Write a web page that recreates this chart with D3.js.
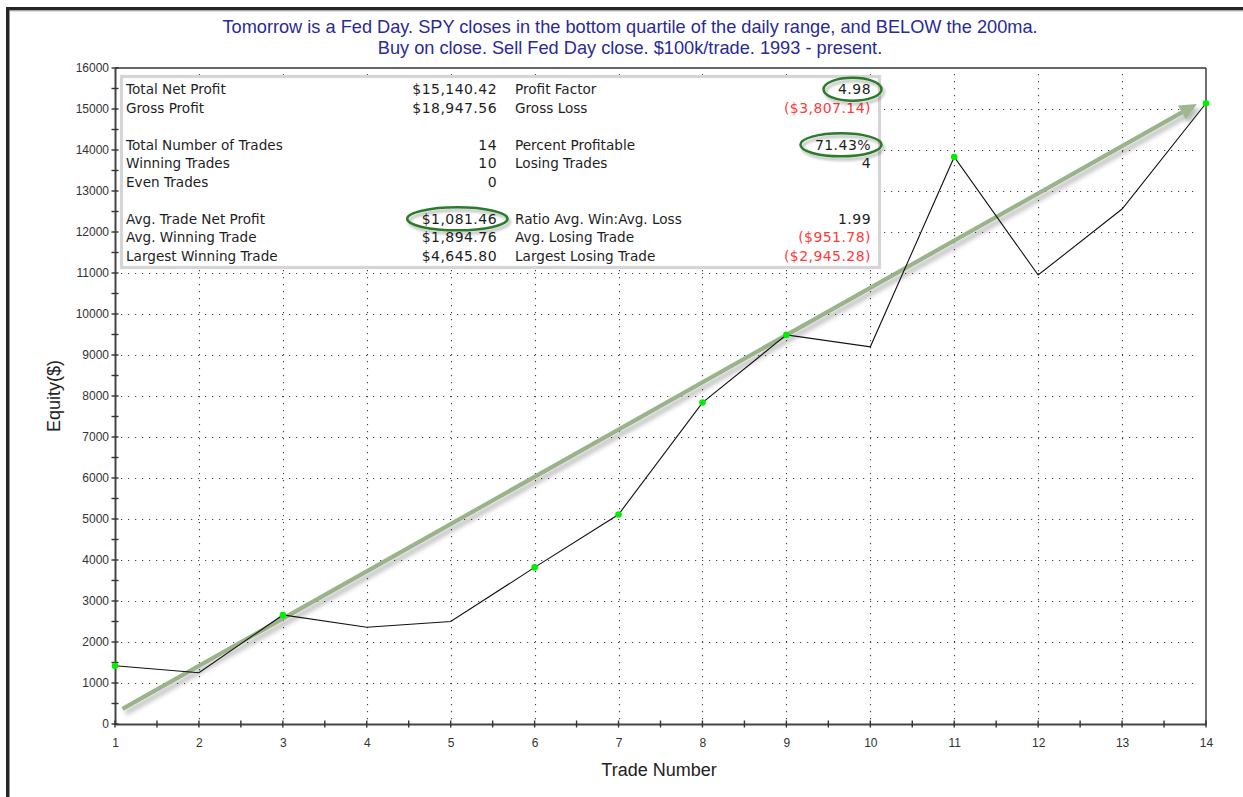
<!DOCTYPE html>
<html>
<head>
<meta charset="utf-8">
<script src="https://cdn.jsdelivr.net/npm/d3@7"></script>
<style>
  html, body { margin: 0; padding: 0; background: #fff; }
  svg { display: block; }
</style>
</head>
<body>
<svg id="chart" width="1243" height="797"></svg>
<script>
// ---- Data ----
const tradeNumbers = [1, 2, 3, 4, 5, 6, 7, 8, 9, 10, 11, 12, 13, 14];
const equity = [1420, 1250, 2660, 2360, 2500, 3820, 5110, 7840, 9490, 9200, 13830, 10950, 12560, 15140];
const newHigh = [true, false, true, false, false, true, true, true, true, false, true, false, false, true];
const yTicks = [0, 1000, 2000, 3000, 4000, 5000, 6000, 7000, 8000, 9000, 10000, 11000, 12000, 13000, 14000, 15000, 16000];
const xTicks = [1, 2, 3, 4, 5, 6, 7, 8, 9, 10, 11, 12, 13, 14];
const titleLines = [
  "Tomorrow is a Fed Day. SPY closes in the bottom quartile of the daily range, and BELOW the 200ma.",
  "Buy on close. Sell Fed Day close. $100k/trade. 1993 - present."
];
const trendArrow = [[1.09, 370], [13.89, 15120]];

// Stats table rows (null = blank row)
const statsLeftLabels = ["Total Net Profit", "Gross Profit", null, "Total Number of Trades", "Winning Trades", "Even Trades", null, "Avg. Trade Net Profit", "Avg. Winning Trade", "Largest Winning Trade"];
const statsLeftValues = ["$15,140.42", "$18,947.56", null, "14", "10", "0", null, "$1,081.46", "$1,894.76", "$4,645.80"];
const statsRightLabels = ["Profit Factor", "Gross Loss", null, "Percent Profitable", "Losing Trades", null, null, "Ratio Avg. Win:Avg. Loss", "Avg. Losing Trade", "Largest Losing Trade"];
const statsRightValues = ["4.98", "($3,807.14)", null, "71.43%", "4", null, null, "1.99", "($951.78)", "($2,945.28)"];
const statsRightNegative = [false, true, false, false, false, false, false, false, true, true];
// highlighted cells: [column, row]
const highlights = [["right", 0], ["right", 3], ["left", 7]];

// ---- Layout ----
const svg = d3.select("#chart");
const W = 1243, H = 797;
const plot = { left: 115, right: 1206, top: 68, bottom: 724 };

const x = d3.scaleLinear().domain([1, 14]).range([plot.left, plot.right]);
const y = d3.scaleLinear().domain([0, 16000]).range([plot.bottom, plot.top]);

// defs
const defs = svg.append("defs");
const sh = defs.append("filter").attr("id", "shadow").attr("x", "-5%").attr("y", "-20%").attr("width", "110%").attr("height", "140%");
sh.append("feGaussianBlur").attr("in", "SourceAlpha").attr("stdDeviation", 2.6).attr("result", "blur");
sh.append("feOffset").attr("in", "blur").attr("dx", 3).attr("dy", 4).attr("result", "off");
sh.append("feComponentTransfer").attr("in", "off").attr("result", "offA")
  .append("feFuncA").attr("type", "linear").attr("slope", 0.3);
const mg = sh.append("feMerge");
mg.append("feMergeNode").attr("in", "offA");
mg.append("feMergeNode").attr("in", "SourceGraphic");

const sh2 = defs.append("filter").attr("id", "shadow2").attr("x", "-20%").attr("y", "-40%").attr("width", "140%").attr("height", "180%");
sh2.append("feGaussianBlur").attr("in", "SourceAlpha").attr("stdDeviation", 1.5).attr("result", "blur");
sh2.append("feOffset").attr("in", "blur").attr("dx", 2).attr("dy", 3).attr("result", "off");
sh2.append("feComponentTransfer").attr("in", "off").attr("result", "offA")
  .append("feFuncA").attr("type", "linear").attr("slope", 0.3);
const mg2 = sh2.append("feMerge");
mg2.append("feMergeNode").attr("in", "offA");
mg2.append("feMergeNode").attr("in", "SourceGraphic");

// Outer frame (top and left dark borders)
svg.append("rect").attr("x", 6).attr("y", 7).attr("width", W - 6).attr("height", 3.5).attr("fill", "#262626");
svg.append("rect").attr("x", 6).attr("y", 7).attr("width", 3.5).attr("height", H - 7).attr("fill", "#262626");
svg.append("line").attr("x1", 9.5).attr("x2", W).attr("y1", 11).attr("y2", 11).attr("stroke", "#bdbdbd").attr("stroke-width", 1);

// Title
svg.append("g").selectAll("text").data(titleLines).join("text")
  .attr("x", 630).attr("y", (d, i) => 33 + i * 21)
  .attr("text-anchor", "middle")
  .attr("font-family", "'Liberation Sans', Arial, sans-serif")
  .attr("font-size", 18.2)
  .attr("fill", "#2a2a96")
  .text(d => d);

// Gridlines
const grid = svg.append("g").attr("stroke", "#444").attr("stroke-width", 1.1).attr("stroke-dasharray", "1.2 5.8");
grid.selectAll(".h").data(yTicks.filter(d => d > 0 && d < 16000)).join("line")
  .attr("x1", plot.left + 6).attr("x2", plot.right - 8)
  .attr("y1", d => Math.round(y(d)) + 0.5).attr("y2", d => Math.round(y(d)) + 0.5);
grid.selectAll(".v").data(xTicks.filter(d => d > 1 && d < 14)).join("line")
  .attr("x1", d => Math.round(x(d)) + 0.5).attr("x2", d => Math.round(x(d)) + 0.5)
  .attr("y1", plot.top + 6).attr("y2", plot.bottom - 3);

// Plot border top & right
svg.append("line").attr("x1", plot.left).attr("x2", plot.right).attr("y1", plot.top).attr("y2", plot.top).attr("stroke", "#333").attr("stroke-width", 1.4);
svg.append("line").attr("x1", plot.right).attr("x2", plot.right).attr("y1", plot.top).attr("y2", plot.bottom).attr("stroke", "#333").attr("stroke-width", 1.4);

// Axes
const yAxis = d3.axisLeft(y).tickValues(yTicks).tickSize(0).tickPadding(6).tickFormat(d3.format("d"));
const yG = svg.append("g").attr("transform", `translate(${plot.left},0)`).call(yAxis);
yG.select(".domain").attr("stroke", "#444").attr("stroke-width", 2);
yG.selectAll("text").attr("font-family", "'Liberation Sans', Arial, sans-serif").attr("font-size", 12).attr("fill", "#333");

const xAxis = d3.axisBottom(x).tickValues(xTicks).tickSize(0).tickPadding(14.5).tickFormat(d3.format("d"));
const xG = svg.append("g").attr("transform", `translate(0,${plot.bottom})`).call(xAxis);
xG.select(".domain").attr("stroke", "#444").attr("stroke-width", 2);
xG.selectAll("text").attr("font-family", "'Liberation Sans', Arial, sans-serif").attr("font-size", 12).attr("fill", "#333");

// Tick marks crossing the axes (major + minor)
const yTickVals = d3.range(0, 16001, 500);
svg.append("g").selectAll("line").data(yTickVals).join("line")
  .attr("x1", plot.left - 3.5).attr("x2", plot.left + 3.5)
  .attr("y1", d => y(d)).attr("y2", d => y(d))
  .attr("stroke", "#333").attr("stroke-width", 1.4);
const xTickVals = d3.range(1, 14.01, 0.5);
svg.append("g").selectAll("line").data(xTickVals).join("line")
  .attr("x1", d => x(d)).attr("x2", d => x(d))
  .attr("y1", plot.bottom - 3.5).attr("y2", plot.bottom + 3.5)
  .attr("stroke", "#333").attr("stroke-width", 1.4);

// Axis titles
svg.append("text")
  .attr("transform", `translate(60, 396) rotate(-90)`)
  .attr("text-anchor", "middle")
  .attr("font-family", "'Liberation Sans', Arial, sans-serif")
  .attr("font-size", 18).attr("fill", "#222")
  .text("Equity($)");
svg.append("text")
  .attr("x", 659).attr("y", 776)
  .attr("text-anchor", "middle")
  .attr("font-family", "'Liberation Sans', Arial, sans-serif")
  .attr("font-size", 18).attr("fill", "#222")
  .text("Trade Number");

// Stats box
const box = svg.append("g");
box.append("rect").attr("x", 121.5).attr("y", 76.5).attr("width", 758).attr("height", 191)
  .attr("fill", "#fff").attr("stroke", "#d5d5d5").attr("stroke-width", 3.2);

const rowY = i => 94.3 + i * 18.5;
const labelFont = "'DejaVu Sans', Verdana, sans-serif";
const labelSize = 13.6, valueSize = 14, valueSpacing = 0.45;
const colX = { leftLabel: 126, leftValue: 497, rightLabel: 515, rightValue: 871 };

box.append("g").selectAll("text").data(statsLeftLabels.map((d, i) => [d, i]).filter(d => d[0])).join("text")
  .attr("x", colX.leftLabel).attr("y", d => rowY(d[1]))
  .attr("font-family", labelFont).attr("font-size", labelSize).attr("fill", "#1e1e1e")
  .text(d => d[0]);
box.append("g").selectAll("text").data(statsLeftValues.map((d, i) => [d, i]).filter(d => d[0])).join("text")
  .attr("x", colX.leftValue).attr("y", d => rowY(d[1]))
  .attr("text-anchor", "end")
  .attr("font-family", labelFont).attr("font-size", valueSize).attr("letter-spacing", valueSpacing).attr("fill", "#1e1e1e")
  .text(d => d[0]);
box.append("g").selectAll("text").data(statsRightLabels.map((d, i) => [d, i]).filter(d => d[0])).join("text")
  .attr("x", colX.rightLabel).attr("y", d => rowY(d[1]))
  .attr("font-family", labelFont).attr("font-size", labelSize).attr("fill", "#1e1e1e")
  .text(d => d[0]);
box.append("g").selectAll("text").data(statsRightValues.map((d, i) => [d, i]).filter(d => d[0])).join("text")
  .attr("x", colX.rightValue).attr("y", d => rowY(d[1]))
  .attr("text-anchor", "end")
  .attr("font-family", labelFont).attr("font-size", valueSize).attr("letter-spacing", valueSpacing)
  .attr("fill", d => statsRightNegative[d[1]] ? "#ff3a3a" : "#1e1e1e")
  .text(d => d[0]);

// Highlight ellipses around chosen values
const hl = svg.append("g").attr("filter", "url(#shadow2)");
highlights.forEach(([col, row]) => {
  const txt = col === "left" ? statsLeftValues[row] : statsRightValues[row];
  const right = col === "left" ? colX.leftValue : colX.rightValue;
  const tmp = svg.append("text").attr("font-family", labelFont).attr("font-size", valueSize).attr("letter-spacing", valueSpacing).text(txt);
  const w = tmp.node().getComputedTextLength();
  tmp.remove();
  const cx = right - w / 2 - 2;
  const cy = rowY(row) - 5;
  hl.append("ellipse").attr("cx", cx).attr("cy", cy).attr("rx", w / 2 + 12.5).attr("ry", 11.5)
    .attr("fill", "none").attr("stroke", "#2b7b2b").attr("stroke-width", 2.5);
});

// Trend arrow
const a0 = [x(trendArrow[0][0]), y(trendArrow[0][1])];
const a1 = [x(trendArrow[1][0]), y(trendArrow[1][1])];
const ang = Math.atan2(a1[1] - a0[1], a1[0] - a0[0]);
const headLen = 17, headHalf = 8;
const base = [a1[0] - headLen * Math.cos(ang), a1[1] - headLen * Math.sin(ang)];
const perp = [-Math.sin(ang), Math.cos(ang)];
const arrowG = svg.append("g").attr("filter", "url(#shadow)");
arrowG.append("line")
  .attr("x1", a0[0]).attr("y1", a0[1]).attr("x2", base[0]).attr("y2", base[1])
  .attr("stroke", "#9ab38a").attr("stroke-width", 4.2);
arrowG.append("path")
  .attr("d", d3.line()([a1, [base[0] + perp[0] * headHalf, base[1] + perp[1] * headHalf], [base[0] - perp[0] * headHalf, base[1] - perp[1] * headHalf]]) + "Z")
  .attr("fill", "#9fb690");

// Equity line
const line = d3.line().x((d, i) => x(tradeNumbers[i])).y(d => y(d));
svg.append("path").datum(equity)
  .attr("d", line)
  .attr("fill", "none").attr("stroke", "#111").attr("stroke-width", 1.1);

// New-high markers
svg.append("g").selectAll("circle").data(equity.map((d, i) => [tradeNumbers[i], d, newHigh[i]]).filter(d => d[2])).join("circle")
  .attr("cx", d => x(d[0])).attr("cy", d => y(d[1])).attr("r", 3.3)
  .attr("fill", "#00ee00");
</script>
</body>
</html>
